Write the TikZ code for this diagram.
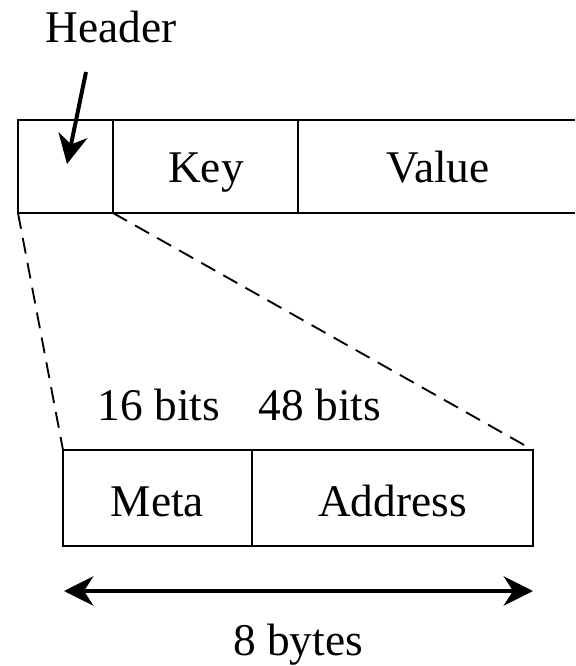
\documentclass[tikz,border=0pt]{standalone}
\usepackage{fontspec}
\setmainfont{Liberation Serif}
\usetikzlibrary{arrows.meta}
\begin{document}
\begin{tikzpicture}[x=0.75pt,y=-0.75pt,
  cell/.style={draw=black,line width=1.5pt,minimum width=#1*0.75pt,minimum height=93*0.75pt,inner sep=0pt,outer sep=0pt,anchor=north west},
  cellb/.style={draw=black,line width=1.5pt,minimum width=#1*0.75pt,minimum height=96*0.75pt,inner sep=0pt,outer sep=0pt,anchor=north west},
  lbl/.style={font=\fontsize{34}{40}\selectfont,anchor=base,inner sep=0pt},
  zoomline/.style={draw=black,line width=1.4pt,dash pattern=on 12pt off 7pt},
  bigarrow/.style={draw=black,line width=3pt,-{Stealth[length=22pt,width=22pt,inset=7pt]}},
  dblarrow/.style={draw=black,line width=3pt,{Stealth[length=22pt,width=22pt,inset=7pt]}-{Stealth[length=22pt,width=22pt,inset=7pt]}}]
\useasboundingbox (0,0) rectangle (575,666);
% top row
\node[cell=95] (hcell) at (18,120) {};
\node[cell=185] (kcell) at (113,120) {};
\node[minimum width=277*0.75pt,minimum height=93*0.75pt,inner sep=0pt,outer sep=0pt,anchor=north west] (vcell) at (298,120) {};
\draw[line width=1.5pt] (vcell.north west) -- (vcell.north east);
\draw[line width=1.5pt] (vcell.south west) -- (vcell.south east);
\draw[line width=2.2pt] (hcell.north east) -- (hcell.south east);
\node[lbl] (key) at (206,183) {Key};
\node[lbl] (val) at (438,183) {Value};
\node[lbl] (hdr) at (111,43) {Header};
\coordinate (hs) at (86,72);
\coordinate (he) at (67,164);
\draw[bigarrow] (hs) -- (he);
% bottom row
\node[cellb=189] (meta) at (63,450) {};
\node[cellb=281] (addr) at (252,450) {};
\node[lbl] at (meta.center |- 0,516) {Meta};
\node[lbl] at (addr.center |- 0,516) {Address};
\node[lbl] (b16) at (159,420) {16 bits};
\node[lbl] (b48) at (320,420) {48 bits};
% dashed zoom lines
\draw[zoomline] (hcell.south west) -- (meta.north west);
\draw[zoomline] (hcell.south east) -- (addr.north east);
% size arrow
\coordinate (al) at (64,591);
\coordinate (ar) at (533,591);
\draw[dblarrow] (al) -- (ar);
\node[lbl] (bytes) at (298,655) {8 bytes};
\end{tikzpicture}
\end{document}
